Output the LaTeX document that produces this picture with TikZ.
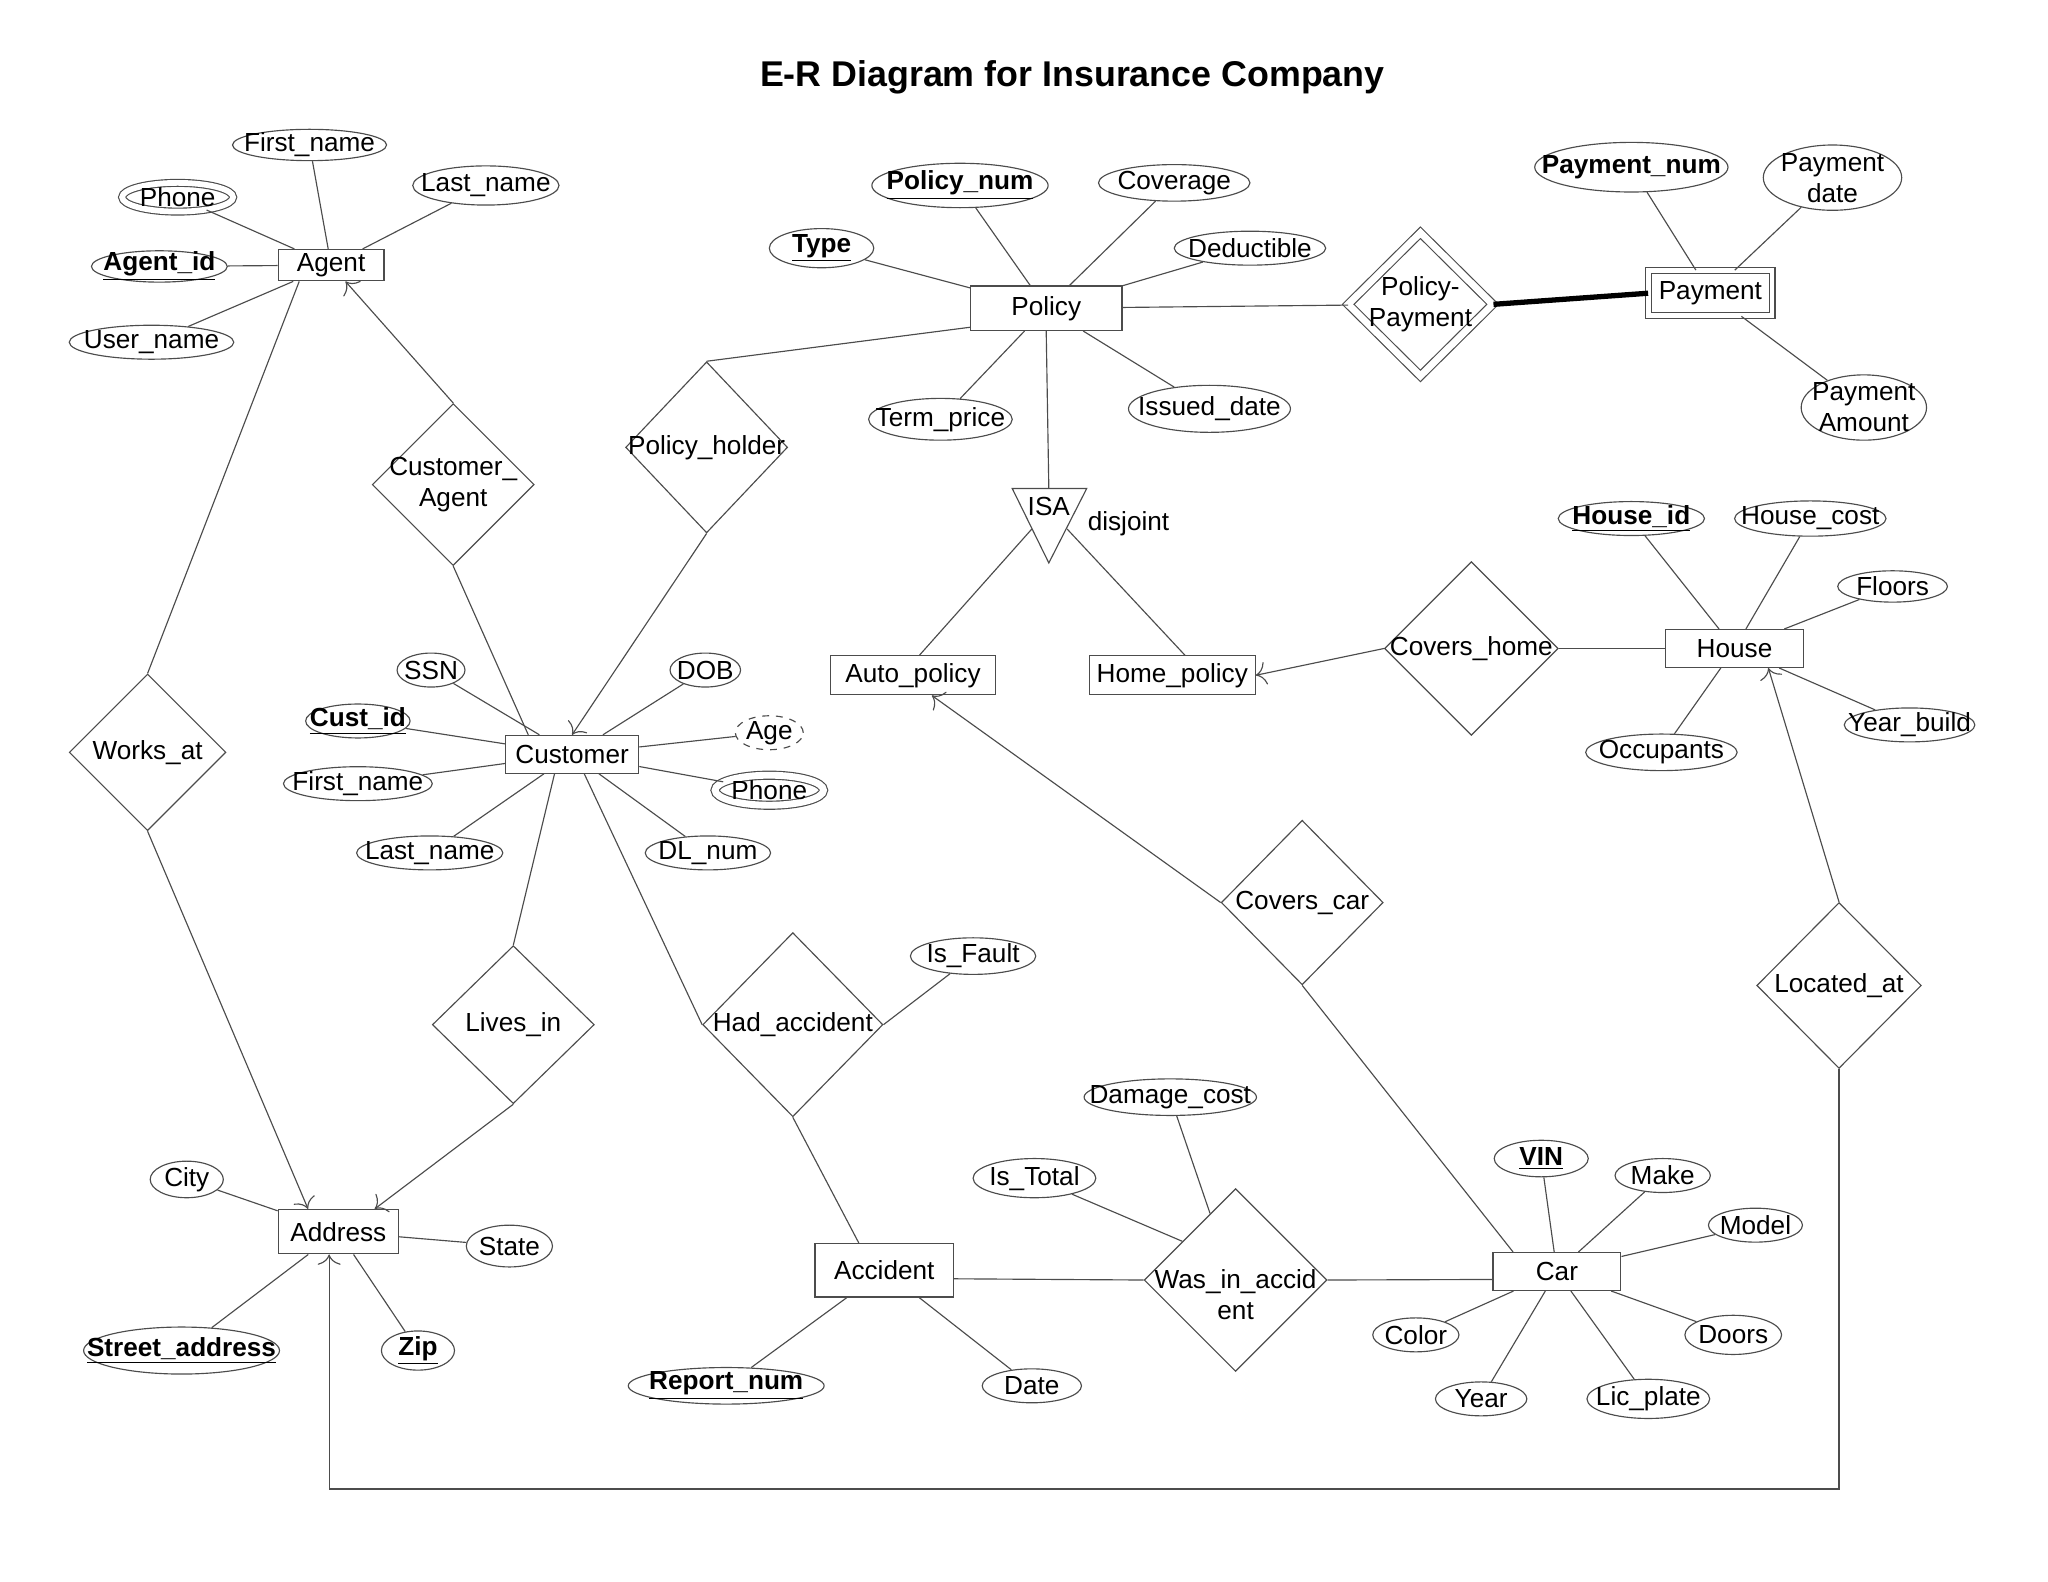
\documentclass[tikz,border=0pt]{standalone}
\usepackage{fontspec}
\setmainfont{Liberation Sans}
\usepackage{tikz}
\usetikzlibrary{shapes.geometric, arrows.meta, calc}

\tikzset{
  entity/.style={draw=black!70, line width=0.5pt, rectangle, inner sep=0pt},
  attr/.style={draw=black!70, line width=0.5pt, ellipse, inner sep=0pt},
  rel/.style={draw=black!70, line width=0.5pt, diamond, inner sep=0pt},
  link/.style={draw=black!70, line width=0.5pt},
}

\begin{document}
\begin{tikzpicture}[x=0.02cm, y=-0.02cm, font=\fontsize{11.4}{13.5}\selectfont, >={To[length=4.5pt, width=10pt]}]
        \useasboundingbox (0,0) rectangle (1568,1211);
        % Title
        \node[font=\fontsize{15.6}{18}\selectfont\bfseries] (title) at (821,59) {E-R Diagram for Insurance Company};

        % Agent
        \node[entity, minimum width=1.62cm, minimum height=0.48cm] (agent) at (253.5,203) {Agent};
        \node[attr, minimum width=2.36cm, minimum height=0.48cm, label=center:First\_name] (afirst) at (237,111) {};
        \node[attr, minimum width=2.24cm, minimum height=0.6cm, label=center:Last\_name] (alast) at (372,142) {};
        \node[attr, double, double distance=2.5pt, minimum width=1.7cm, minimum height=0.44cm, label=center:Phone] (aphone) at (136,151) {};
        \node[attr, minimum width=2.08cm, minimum height=0.48cm, label={center:\underline{\textbf{Agent\_id}}}] (aid) at (122,204) {};
        \node[attr, minimum width=2.52cm, minimum height=0.52cm, label=center:User\_name] (auser) at (116,262) {};
        \draw[link] (afirst) -- (agent);
        \draw[link] (alast) -- (agent);
        \draw[link] (aphone) -- (agent);
        \draw[link] (aid) -- (agent);
        \draw[link] (auser) -- (agent);

        % Policy
        \node[entity, minimum width=2.32cm, minimum height=0.68cm] (policy) at (801,236) {Policy};
        \node[attr, minimum width=2.7cm, minimum height=0.68cm, label={center:\underline{\textbf{Policy\_num}}}] (pnum) at (735,142) {};
        \node[attr, minimum width=2.32cm, minimum height=0.56cm, label=center:Coverage] (pcov) at (899,140) {};
        \node[attr, minimum width=1.6cm, minimum height=0.6cm, label={center:\underline{\textbf{Type}}}] (ptype) at (629,190) {};
        \node[attr, minimum width=2.32cm, minimum height=0.52cm, label=center:Deductible] (pded) at (957,190) {};
        \node[attr, minimum width=2.2cm, minimum height=0.64cm, label=center:Term\_price] (pterm) at (720,321) {};
        \node[attr, minimum width=2.48cm, minimum height=0.72cm, label=center:Issued\_date] (pissued) at (926,313) {};
        \draw[link] (pnum) -- (policy);
        \draw[link] (pcov) -- (policy);
        \draw[link] (ptype) -- (policy);
        \draw[link] (pded) -- (policy);
        \draw[link] (pterm) -- (policy);
        \draw[link] (pissued) -- (policy);

        % Payment
        \node[rel, double, double distance=3pt, minimum width=2.22cm, minimum height=2.2cm, label={[align=center]center:Policy-\\Payment}] (polpay) at (1087.5,233) {};
        \node[entity, double, double distance=2pt, minimum width=1.89cm, minimum height=0.69cm] (payment) at (1309.5,224.5) {Payment};
        \node[attr, minimum width=2.96cm, minimum height=0.76cm, label={center:\textbf{Payment\_num}}] (paynum) at (1249,128) {};
        \node[attr, minimum width=2.12cm, minimum height=1cm, label={[align=center]center:Payment\\date}] (paydate) at (1403,136) {};
        \node[attr, minimum width=1.92cm, minimum height=1cm, label={[align=center]center:Payment\\Amount}] (payamt) at (1427,312) {};
        \draw[link] (policy) -- (polpay);
        \draw[line width=2.3pt] (polpay.east) -- (payment.west);
        \draw[link] (paynum) -- (payment);
        \draw[link] (paydate) -- (payment);
        \draw[link] (payamt) -- (payment);

        % ISA
        \coordinate (isatl) at (775,374);
        \coordinate (isatr) at (832,374);
        \coordinate (isabot) at (803,431);
        \coordinate (isatop) at (803,374);
        \coordinate (isaleft) at (790,405);
        \coordinate (isaright) at (817,405);
        \draw[link] (isatl) -- (isatr) -- (isabot) -- cycle;
        \node (isa) at (803,388) {ISA};
        \node (disjoint) at (864,401) {disjoint};
        \node[entity, minimum width=2.52cm, minimum height=0.6cm] (autopol) at (699,517) {Auto\_policy};
        \node[entity, minimum width=2.54cm, minimum height=0.6cm] (homepol) at (897.5,517) {Home\_policy};
        \draw[link] (policy.south) -- (isatop);
        \draw[link] (isaleft) -- (autopol.72);
        \draw[link] (isaright) -- (homepol.58);

        % House
        \node[entity, minimum width=2.12cm, minimum height=0.58cm] (house) at (1328,496.5) {House};
        \node[attr, minimum width=2.24cm, minimum height=0.52cm, label={center:\underline{\textbf{House\_id}}}] (hid) at (1249,397) {};
        \node[attr, minimum width=2.32cm, minimum height=0.54cm, label=center:House\_cost] (hcost) at (1386,397) {};
        \node[attr, minimum width=1.68cm, minimum height=0.48cm, label=center:Floors] (hfloors) at (1449,449) {};
        \node[attr, minimum width=2cm, minimum height=0.52cm, label=center:Year\_build] (hyear) at (1462,555) {};
        \node[attr, minimum width=2.32cm, minimum height=0.56cm, label=center:Occupants] (hocc) at (1272,576) {};
        \draw[link] (hid) -- (house);
        \draw[link] (hcost) -- (house);
        \draw[link] (hfloors) -- (house);
        \draw[link] (hyear) -- (house);
        \draw[link] (hocc) -- (house);
        \node[rel, minimum width=2.66cm, minimum height=2.66cm, label=center:Covers\_home] (covershome) at (1126.5,496.5) {};
        \draw[link, ->] (covershome.west) -- (homepol.east);
        \draw[link] (covershome.east) -- (house.west);

        % Customer
        \node[entity, minimum width=2.04cm, minimum height=0.58cm] (customer) at (438,577.5) {Customer};
        \node[attr, minimum width=1.04cm, minimum height=0.52cm, label=center:SSN] (cssn) at (330,513) {};
        \node[attr, minimum width=1.6cm, minimum height=0.52cm, label={center:\underline{\textbf{Cust\_id}}}] (cid) at (274,552) {};
        \node[attr, minimum width=2.28cm, minimum height=0.52cm, label=center:First\_name] (cfirst) at (274,600) {};
        \node[attr, minimum width=2.24cm, minimum height=0.52cm, label=center:Last\_name] (clast) at (329,653) {};
        \node[attr, minimum width=1.08cm, minimum height=0.52cm, label=center:DOB] (cdob) at (540,513) {};
        \node[attr, dashed, minimum width=1.04cm, minimum height=0.52cm, label=center:Age] (cage) at (589,561) {};
        \node[attr, double, double distance=3pt, minimum width=1.66cm, minimum height=0.46cm, label=center:Phone] (cphone) at (589,605) {};
        \node[attr, minimum width=1.92cm, minimum height=0.52cm, label=center:DL\_num] (cdl) at (542,653) {};
        \draw[link] (cssn) -- (customer);
        \draw[link] (cid) -- (customer);
        \draw[link] (cfirst) -- (customer);
        \draw[link] (clast) -- (customer);
        \draw[link] (cdob) -- (customer);
        \draw[link] (cage) -- (customer);
        \draw[link] (cphone) -- (customer);
        \draw[link] (cdl) -- (customer);

        % Customer relationships
        \node[rel, minimum width=2.48cm, minimum height=2.62cm, label=center:Policy\_holder] (holder) at (541,342.5) {};
        \node[rel, minimum width=2.48cm, minimum height=2.48cm, label={[align=center]center:Customer\_\\Agent}] (custagent) at (347,371) {};
        \node[rel, minimum width=2.4cm, minimum height=2.4cm, label=center:Works\_at] (worksat) at (113,576) {};
        \node[rel, minimum width=2.48cm, minimum height=2.42cm, label=center:Lives\_in] (livesin) at (393,784.5) {};
        \node[rel, minimum width=2.76cm, minimum height=2.82cm, label=center:Had\_accident] (hadacc) at (607,784.5) {};
        \node[attr, minimum width=1.92cm, minimum height=0.56cm, label=center:Is\_Fault] (fault) at (745,732) {};
        \draw[link] (holder.north) -- (policy.194);
        \draw[link, ->] (holder.south) -- (customer.north);
        \draw[link, ->] (custagent.north) -- (agent);
        \draw[link] (custagent.south) -- (customer.156);
        \draw[link] (worksat.north) -- (agent.207);
        \draw[link] (customer.228) -- (livesin.north);
        \draw[link] (customer.302) -- (hadacc.west);
        \draw[link] (fault) -- (hadacc.east);

        % Address
        \node[entity, minimum width=1.84cm, minimum height=0.68cm] (address) at (259,943) {Address};
        \node[attr, minimum width=1.12cm, minimum height=0.56cm, label=center:City] (city) at (143,903) {};
        \node[attr, minimum width=1.32cm, minimum height=0.64cm, label=center:State] (state) at (390,954) {};
        \node[attr, minimum width=3cm, minimum height=0.72cm, label={center:\underline{\textbf{Street\_address}}}] (street) at (139,1034) {};
        \node[attr, minimum width=1.12cm, minimum height=0.6cm, label={center:\underline{\textbf{Zip}}}] (zip) at (320,1034) {};
        \draw[link] (city) -- (address);
        \draw[link] (state) -- (address);
        \draw[link] (street) -- (address);
        \draw[link] (zip) -- (address);
        \draw[link, ->] (worksat.south) -- (address.143);
        \draw[link, ->] (livesin.south) -- (address.32);

        % Accident
        \node[entity, minimum width=2.12cm, minimum height=0.82cm] (accident) at (677,972.5) {Accident};
        \node[attr, minimum width=3cm, minimum height=0.56cm, label={center:\underline{\textbf{Report\_num}}}] (rnum) at (556,1061) {};
        \node[attr, minimum width=1.52cm, minimum height=0.52cm, label=center:Date] (adate) at (790,1061) {};
        \draw[link] (rnum) -- (accident);
        \draw[link] (adate) -- (accident);
        \draw[link] (hadacc.south) -- (accident.133);

        % Was in accident
        \node[rel, minimum width=2.8cm, minimum height=2.8cm, label={[align=center, yshift=-0.22cm]center:Was\_in\_accid\\ent}] (wasin) at (946,980) {};
        \node[attr, minimum width=2.64cm, minimum height=0.56cm, label=center:Damage\_cost] (dmg) at (896,840) {};
        \node[attr, minimum width=1.88cm, minimum height=0.6cm, label=center:Is\_Total] (total) at (792,902) {};
        \draw[link] (accident.353) -- (wasin.west);
        \draw[link] (dmg) -- (wasin.111);
        \draw[link] (total) -- (wasin.144);

        % Car
        \node[entity, minimum width=1.96cm, minimum height=0.58cm] (car) at (1192,973.5) {Car};
        \node[attr, minimum width=1.44cm, minimum height=0.56cm, label={center:\underline{\textbf{VIN}}}] (vin) at (1180,887) {};
        \node[attr, minimum width=1.46cm, minimum height=0.52cm, label=center:Make] (make) at (1273,900) {};
        \node[attr, minimum width=1.44cm, minimum height=0.52cm, label=center:Model] (model) at (1344,938) {};
        \node[attr, minimum width=1.48cm, minimum height=0.6cm, label=center:Doors] (doors) at (1327,1022) {};
        \node[attr, minimum width=1.88cm, minimum height=0.6cm, label=center:Lic\_plate] (lic) at (1262,1071) {};
        \node[attr, minimum width=1.4cm, minimum height=0.52cm, label=center:Year] (year) at (1134,1071) {};
        \node[attr, minimum width=1.32cm, minimum height=0.52cm, label=center:Color] (color) at (1084,1022) {};
        \draw[link] (vin) -- (car);
        \draw[link] (make) -- (car);
        \draw[link] (model) -- (car);
        \draw[link] (doors) -- (car);
        \draw[link] (lic) -- (car);
        \draw[link] (year) -- (car);
        \draw[link] (color) -- (car);
        \draw[link] (wasin.east) -- (car.187);

        % Covers car and Located at
        \node[rel, minimum width=2.48cm, minimum height=2.52cm, label=center:Covers\_car] (coverscar) at (997,691) {};
        \node[rel, minimum width=2.52cm, minimum height=2.54cm, label=center:Located\_at] (locatedat) at (1408,754.5) {};
        \coordinate (bend) at (1408,1140);
        \draw[link, ->] (coverscar.west) -- (autopol.313);
        \draw[link] (coverscar.south) -- (car.156);
        \draw[link, ->] (locatedat.north) -- (house.330);
        \draw[link, ->] (locatedat.south) -- (bend) -| ($(address.south)+(-7,0)$);
\end{tikzpicture}
\end{document}
